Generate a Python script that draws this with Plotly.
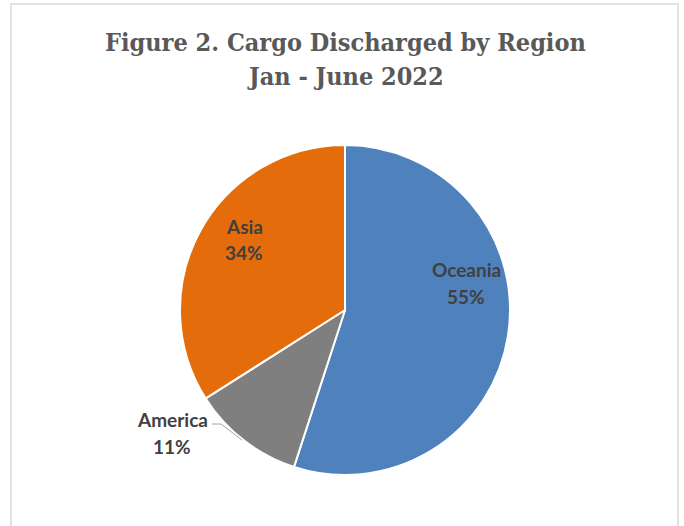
import plotly.graph_objects as go

W, H = 684, 526

regions = ["Oceania", "America", "Asia"]
shares = [55, 11, 34]
colors = ["#4F81BD", "#7F7F7F", "#E46C0A"]
title_lines = ["Figure 2. Cargo Discharged by Region", "Jan - June 2022"]

def px(x):
    return x / W

def py(y):
    return 1 - y / H

cx, cy, r = 345, 310, 165

fig = go.Figure(go.Pie(
    labels=regions,
    values=shares,
    sort=False,
    direction="clockwise",
    rotation=0,
    marker=dict(colors=colors, line=dict(color="white", width=2)),
    textinfo="none",
    hoverinfo="label+percent",
    showlegend=False,
    domain=dict(x=[px(cx - r), px(cx + r)], y=[py(cy + r), py(cy - r)]),
))

# data label positions (name line centre)
label_pos = {"Oceania": (466, 269), "America": (172, 419), "Asia": (244, 226)}
total = sum(shares)
lab_font = dict(family="Lato", size=19, color="#404040")
annotations = []
for name, v in zip(regions, shares):
    x, y = label_pos[name]
    annotations.append(dict(
        x=px(x), y=py(y), xref="paper", yref="paper",
        text=f"<b>{name}</b>", showarrow=False,
        xanchor="center", yanchor="middle", font=lab_font,
    ))
    annotations.append(dict(
        x=px(x), y=py(y + 27), xref="paper", yref="paper",
        text=f"<b>{round(100 * v / total)}%</b>", showarrow=False,
        xanchor="center", yanchor="middle", font=lab_font,
    ))

title_font = dict(family="DejaVu Serif Condensed, DejaVu Serif", size=25, color="#595959")
for line, yy in zip(title_lines, [42, 76]):
    annotations.append(dict(
        x=px(345), y=py(yy), xref="paper", yref="paper",
        text=f"<b>{line}</b>", showarrow=False,
        xanchor="center", yanchor="middle", font=title_font,
    ))

shapes = [
    dict(type="rect", xref="paper", yref="paper",
         x0=px(11), x1=px(678), y0=py(560), y1=py(4),
         line=dict(color="#D9D9D9", width=1.5), fillcolor="rgba(0,0,0,0)"),
    dict(type="path", xref="paper", yref="paper",
         path=f"M {px(212)} {py(424)} L {px(221)} {py(424)} L {px(242)} {py(440)}",
         line=dict(color="#A6A6A6", width=1)),
]

fig.update_layout(
    width=W, height=H,
    margin=dict(l=0, r=0, t=0, b=0),
    paper_bgcolor="white",
    annotations=annotations,
    shapes=shapes,
)

fig.write_html("out.html",
               config={"displayModeBar": False},
               post_script="document.body.style.margin='0';document.body.style.overflow='hidden';")
